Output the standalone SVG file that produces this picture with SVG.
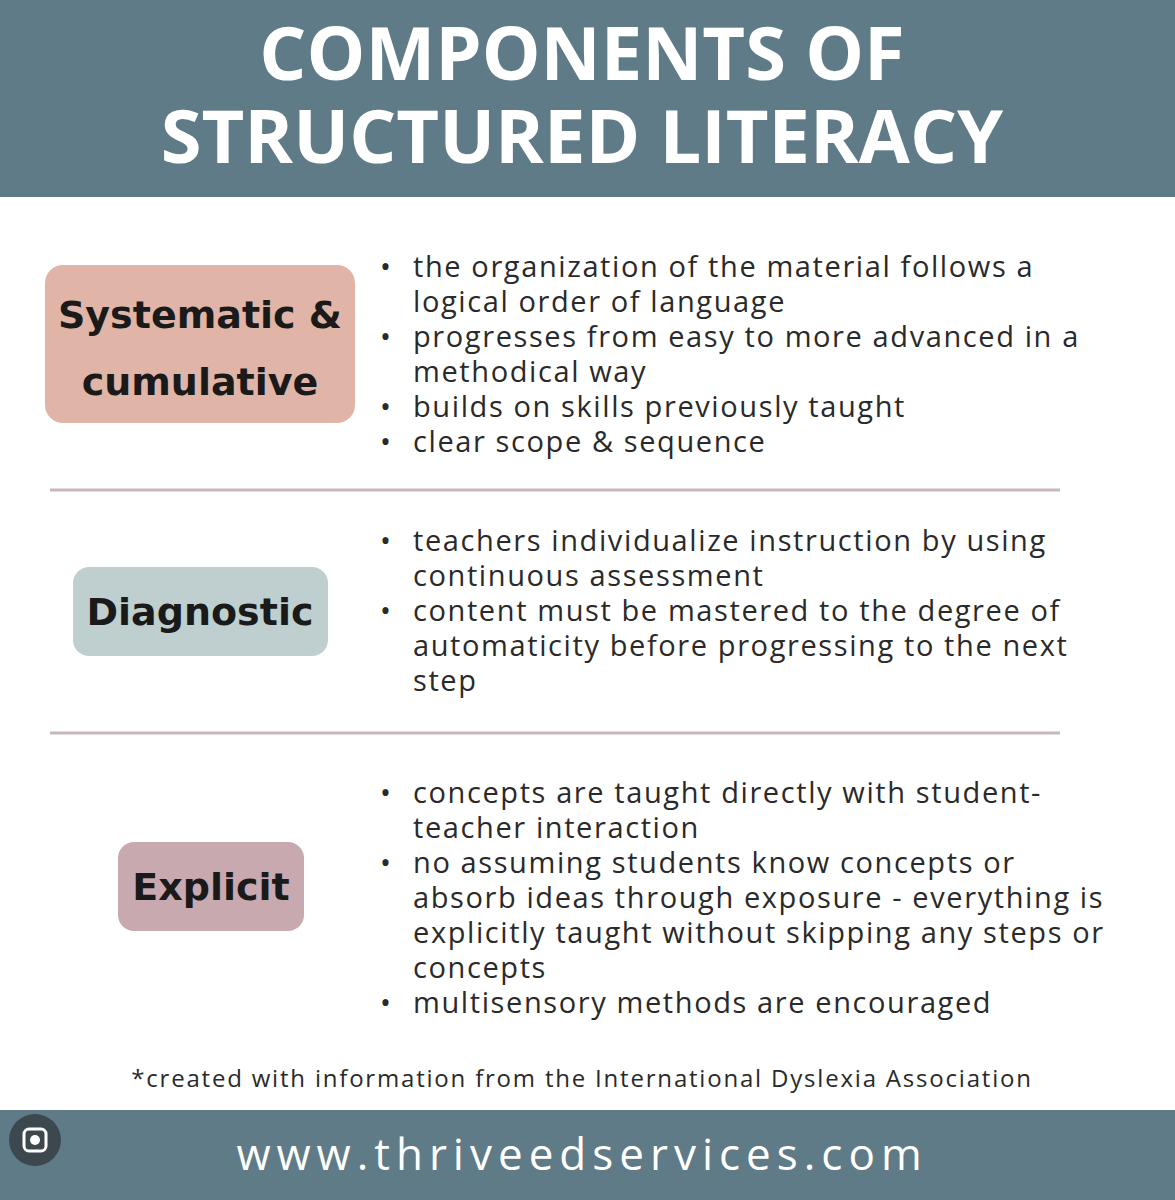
<svg xmlns="http://www.w3.org/2000/svg" width="1175" height="1200" viewBox="0 0 1175 1200">
<style>
.b{font-family:"Open Sans","Noto Sans",sans-serif;font-size:29px;letter-spacing:1.6px;fill:#2a2a2a}
.h{font-family:"Comic Sans MS","DejaVu Sans",sans-serif;font-weight:bold;font-size:38px;fill:#1a1a1a;text-anchor:middle}
.d{stroke:#c9b7bf;stroke-width:3}
</style>
<rect width="1175" height="1200" fill="#fff"/>
<rect width="1175" height="197" fill="#5f7b87"/>
<text x="582" y="80" font-family="Open Sans, sans-serif" font-weight="bold" font-size="74" fill="#fff" text-anchor="middle">COMPONENTS OF</text>
<text x="582" y="163" font-family="Open Sans, sans-serif" font-weight="bold" font-size="74" fill="#fff" text-anchor="middle">STRUCTURED LITERACY</text>
<g id="systematic">
<rect x="45" y="265" width="310" height="158" rx="18" fill="#e0b5a8"/>
<text class="h" x="200" y="328">Systematic &amp;</text>
<text class="h" x="200" y="395">cumulative</text>
<g class="b">
<text x="380" y="277">•</text><text x="413" y="277">the organization of the material follows a</text>
<text x="413" y="312">logical order of language</text>
<text x="380" y="347">•</text><text x="413" y="347">progresses from easy to more advanced in a</text>
<text x="413" y="382">methodical way</text>
<text x="380" y="417">•</text><text x="413" y="417">builds on skills previously taught</text>
<text x="380" y="452">•</text><text x="413" y="452">clear scope &amp; sequence</text>
</g></g>
<line class="d" x1="50" y1="490" x2="1060" y2="490"/>
<g id="diagnostic">
<rect x="73" y="567" width="255" height="89" rx="16" fill="#bfcfcf"/>
<text class="h" x="200" y="625">Diagnostic</text>
<g class="b">
<text x="380" y="551">•</text><text x="413" y="551">teachers individualize instruction by using</text>
<text x="413" y="586">continuous assessment</text>
<text x="380" y="621">•</text><text x="413" y="621">content must be mastered to the degree of</text>
<text x="413" y="656">automaticity before progressing to the next</text>
<text x="413" y="691">step</text>
</g></g>
<line class="d" x1="50" y1="733" x2="1060" y2="733"/>
<g id="explicit">
<rect x="118" y="842" width="186" height="89" rx="16" fill="#c9a9b0"/>
<text class="h" x="211" y="900">Explicit</text>
<g class="b">
<text x="380" y="803">•</text><text x="413" y="803">concepts are taught directly with student-</text>
<text x="413" y="838">teacher interaction</text>
<text x="380" y="873">•</text><text x="413" y="873">no assuming students know concepts or</text>
<text x="413" y="908">absorb ideas through exposure - everything is</text>
<text x="413" y="943">explicitly taught without skipping any steps or</text>
<text x="413" y="978">concepts</text>
<text x="380" y="1013">•</text><text x="413" y="1013">multisensory methods are encouraged</text>
</g></g>
<text x="582" y="1087" font-family="Open Sans, sans-serif" font-size="24" letter-spacing="1.8" fill="#2a2a2a" text-anchor="middle">*created with information from the International Dyslexia Association</text>
<rect y="1110" width="1175" height="90" fill="#5f7b87"/>
<text x="582" y="1170" font-family="Open Sans, sans-serif" font-size="44" letter-spacing="6" fill="#fff" text-anchor="middle">www.thriveedservices.com</text>
<circle cx="35" cy="1140" r="26" fill="#3a4248" opacity="0.9"/>
<rect x="24" y="1129" width="22" height="22" rx="5" fill="none" stroke="#fff" stroke-width="3"/>
<circle cx="35" cy="1140" r="5" fill="#fff"/>
</svg>
